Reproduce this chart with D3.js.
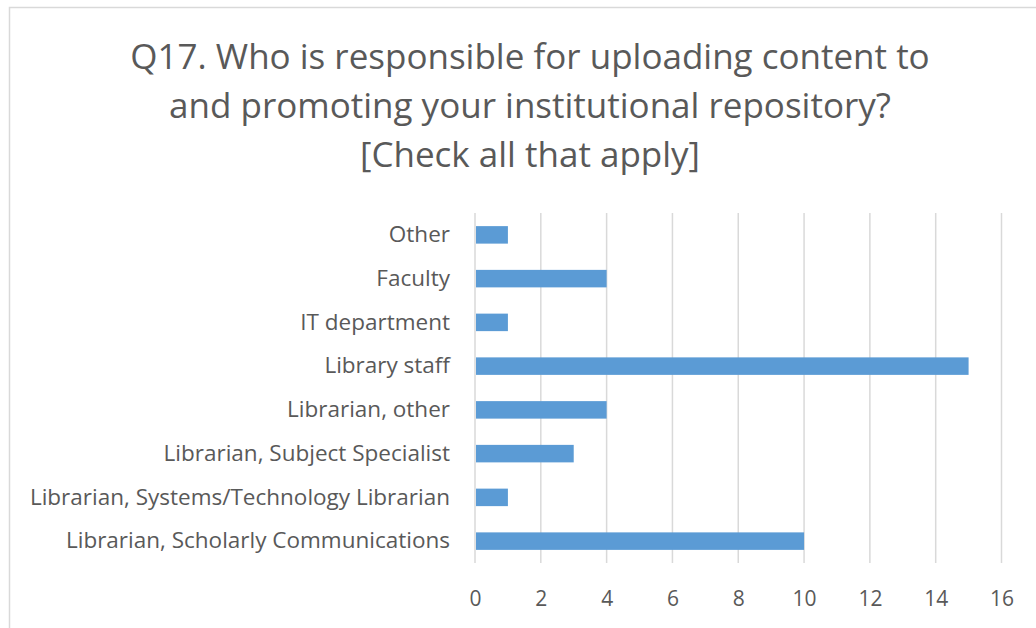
<!DOCTYPE html>
<html><head><meta charset="utf-8">
<script src="https://cdn.jsdelivr.net/npm/d3@7"></script>
<style>body{margin:0;background:#fff;} svg{display:block;}</style>
</head><body>
<svg id="c" width="1036" height="628"></svg>
<script>
const categories = ["Other","Faculty","IT department","Library staff","Librarian, other","Librarian, Subject Specialist","Librarian, Systems/Technology Librarian","Librarian, Scholarly Communications"];
const values = [1,4,1,15,4,3,1,10];
const xTicks = [0,2,4,6,8,10,12,14,16];
const titleLines = ["Q17. Who is responsible for uploading content to","and promoting your institutional repository?","[Check all that apply]"];

const svg = d3.select("#c");
const font = "'Open Sans', sans-serif";
svg.append("rect").attr("width",1036).attr("height",628).attr("fill","#fff");
svg.append("rect").attr("x",9.5).attr("y",7.5).attr("width",1100).attr("height",700)
  .attr("fill","#fff").attr("stroke","#d9d9d9").attr("stroke-width",1.5);

const m = {left:475, right:1001.5, top:213, bottom:563};
const x = d3.scaleLinear().domain([0,16]).range([m.left,m.right]);
const y = d3.scaleBand().domain(categories).range([m.top,m.bottom]).paddingInner(0.6).paddingOuter(0.3);

// gridlines
svg.append("g").selectAll("line").data(xTicks).join("line")
  .attr("x1",d=>x(d)).attr("x2",d=>x(d)).attr("y1",m.top).attr("y2",m.bottom)
  .attr("stroke","#d9d9d9").attr("stroke-width",1.5);

// bars
svg.append("g").selectAll("rect").data(categories).join("rect")
  .attr("x",x(0)+1).attr("y",d=>y(d)).attr("height",y.bandwidth())
  .attr("width",(d,i)=>x(values[i])-x(0)-1).attr("fill","#5b9bd5");

// x axis
const xa = svg.append("g").attr("transform",`translate(0,${m.bottom})`)
  .call(d3.axisBottom(x).tickValues(xTicks).tickSize(0).tickPadding(28));
xa.select(".domain").remove();
xa.selectAll("text").attr("fill","#595959").style("font-family",font).style("font-size","21px");

// y axis
const ya = svg.append("g").attr("transform",`translate(${m.left-25},0)`)
  .call(d3.axisLeft(y).tickSize(0).tickPadding(0));
ya.select(".domain").remove();
ya.selectAll("text").attr("fill","#595959").style("font-family",font).style("font-size","22.5px");

// title
svg.append("g").selectAll("text").data(titleLines).join("text")
  .attr("x",530).attr("y",(d,i)=>69+i*49).attr("text-anchor","middle")
  .attr("fill","#595959").style("font-family",font).style("font-size","35px").text(d=>d);
</script>
</body></html>
